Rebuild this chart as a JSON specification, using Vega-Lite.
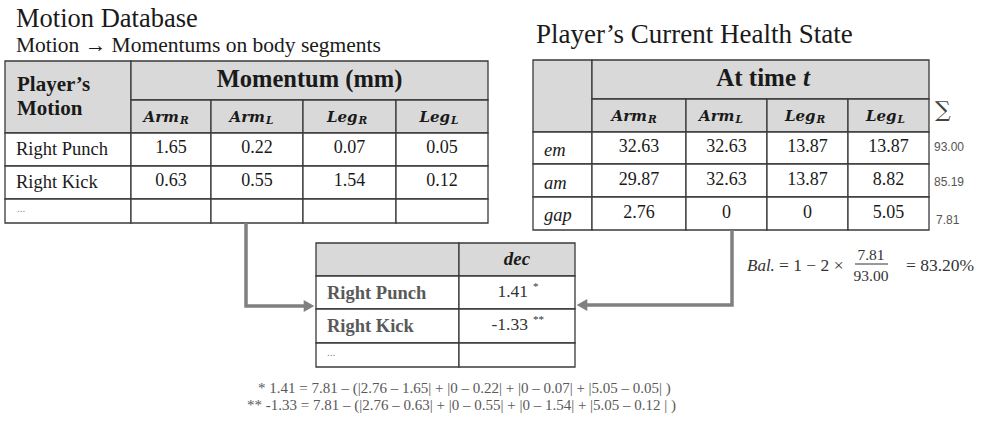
{
  "$schema": "https://vega.github.io/schema/vega-lite/v6.json",
  "width": 982,
  "height": 422,
  "padding": 0,
  "autosize": {"type": "fit", "contains": "padding"},
  "background": "#ffffff",
  "config": {"view": {"stroke": null}, "text": {"font": "Liberation Serif", "color": "#1a1a1a"}},
  "datasets": {
    "cells": [
      {"t": "h", "x": 5, "x2": 131, "y": 61, "y2": 133},
      {"t": "h", "x": 131, "x2": 488, "y": 61, "y2": 100},
      {"t": "h", "x": 131, "x2": 211, "y": 100, "y2": 133},
      {"t": "h", "x": 211, "x2": 303, "y": 100, "y2": 133},
      {"t": "h", "x": 303, "x2": 396, "y": 100, "y2": 133},
      {"t": "h", "x": 396, "x2": 488, "y": 100, "y2": 133},
      {"t": "b", "x": 5, "x2": 131, "y": 133, "y2": 166},
      {"t": "b", "x": 131, "x2": 211, "y": 133, "y2": 166},
      {"t": "b", "x": 211, "x2": 303, "y": 133, "y2": 166},
      {"t": "b", "x": 303, "x2": 396, "y": 133, "y2": 166},
      {"t": "b", "x": 396, "x2": 488, "y": 133, "y2": 166},
      {"t": "b", "x": 5, "x2": 131, "y": 166, "y2": 199},
      {"t": "b", "x": 131, "x2": 211, "y": 166, "y2": 199},
      {"t": "b", "x": 211, "x2": 303, "y": 166, "y2": 199},
      {"t": "b", "x": 303, "x2": 396, "y": 166, "y2": 199},
      {"t": "b", "x": 396, "x2": 488, "y": 166, "y2": 199},
      {"t": "b", "x": 5, "x2": 131, "y": 199, "y2": 223},
      {"t": "b", "x": 131, "x2": 211, "y": 199, "y2": 223},
      {"t": "b", "x": 211, "x2": 303, "y": 199, "y2": 223},
      {"t": "b", "x": 303, "x2": 396, "y": 199, "y2": 223},
      {"t": "b", "x": 396, "x2": 488, "y": 199, "y2": 223},
      {"t": "h", "x": 533, "x2": 592, "y": 60, "y2": 132},
      {"t": "h", "x": 592, "x2": 929, "y": 60, "y2": 99},
      {"t": "h", "x": 592, "x2": 686, "y": 99, "y2": 132},
      {"t": "h", "x": 686, "x2": 767, "y": 99, "y2": 132},
      {"t": "h", "x": 767, "x2": 848, "y": 99, "y2": 132},
      {"t": "h", "x": 848, "x2": 929, "y": 99, "y2": 132},
      {"t": "b", "x": 533, "x2": 592, "y": 132, "y2": 164},
      {"t": "b", "x": 592, "x2": 686, "y": 132, "y2": 164},
      {"t": "b", "x": 686, "x2": 767, "y": 132, "y2": 164},
      {"t": "b", "x": 767, "x2": 848, "y": 132, "y2": 164},
      {"t": "b", "x": 848, "x2": 929, "y": 132, "y2": 164},
      {"t": "b", "x": 533, "x2": 592, "y": 164, "y2": 197},
      {"t": "b", "x": 592, "x2": 686, "y": 164, "y2": 197},
      {"t": "b", "x": 686, "x2": 767, "y": 164, "y2": 197},
      {"t": "b", "x": 767, "x2": 848, "y": 164, "y2": 197},
      {"t": "b", "x": 848, "x2": 929, "y": 164, "y2": 197},
      {"t": "b", "x": 533, "x2": 592, "y": 197, "y2": 230},
      {"t": "b", "x": 592, "x2": 686, "y": 197, "y2": 230},
      {"t": "b", "x": 686, "x2": 767, "y": 197, "y2": 230},
      {"t": "b", "x": 767, "x2": 848, "y": 197, "y2": 230},
      {"t": "b", "x": 848, "x2": 929, "y": 197, "y2": 230},
      {"t": "h", "x": 316, "x2": 459, "y": 243, "y2": 276},
      {"t": "h", "x": 459, "x2": 575, "y": 243, "y2": 276},
      {"t": "b", "x": 316, "x2": 459, "y": 276, "y2": 309},
      {"t": "b", "x": 459, "x2": 575, "y": 276, "y2": 309},
      {"t": "b", "x": 316, "x2": 459, "y": 309, "y2": 343},
      {"t": "b", "x": 459, "x2": 575, "y": 309, "y2": 343},
      {"t": "b", "x": 316, "x2": 459, "y": 343, "y2": 367},
      {"t": "b", "x": 459, "x2": 575, "y": 343, "y2": 367}
    ],
    "arrows": [
      {"a": "left", "o": 1, "x": 246, "y": 223},
      {"a": "left", "o": 2, "x": 246, "y": 306},
      {"a": "left", "o": 3, "x": 304, "y": 306},
      {"a": "right", "o": 1, "x": 732, "y": 230},
      {"a": "right", "o": 2, "x": 732, "y": 305},
      {"a": "right", "o": 3, "x": 587, "y": 305}
    ],
    "heads": [
      {"a": "left", "x": 309, "y": 306},
      {"a": "right", "x": 582, "y": 305}
    ],
    "frac": [
      {"x": 855, "x2": 888, "y": 264}
    ],
    "texts": [
      {"r": "title", "x": 16, "y": 27, "s": "Motion Database"},
      {"r": "subtitle", "x": 16, "y": 52, "s": "Motion → Momentums on body segments"},
      {"r": "title2", "x": 536, "y": 43, "s": "Player’s Current Health State"},
      {"r": "hdrL", "x": 17, "y": 91, "s": "Player’s"},
      {"r": "hdrL", "x": 17, "y": 115, "s": "Motion"},
      {"r": "hdrC", "x": 309.5, "y": 87, "s": "Momentum (mm)"},
      {"r": "hdrR", "x": 796, "y": 86, "s": "At time"},
      {"r": "hdrIt", "x": 803, "y": 86, "s": "t"},
      {"r": "subB", "x": 179, "y": 117, "s": "Arm"},
      {"r": "subB", "x": 265, "y": 117, "s": "Arm"},
      {"r": "subB", "x": 357.5, "y": 117, "s": "Leg"},
      {"r": "subB", "x": 450, "y": 117, "s": "Leg"},
      {"r": "subS", "x": 180, "y": 121, "s": "R"},
      {"r": "subS", "x": 266, "y": 121, "s": "L"},
      {"r": "subS", "x": 358.5, "y": 121, "s": "R"},
      {"r": "subS", "x": 451, "y": 121, "s": "L"},
      {"r": "subB", "x": 647, "y": 115.5, "s": "Arm"},
      {"r": "subB", "x": 734.5, "y": 115.5, "s": "Arm"},
      {"r": "subB", "x": 815.5, "y": 115.5, "s": "Leg"},
      {"r": "subB", "x": 896.5, "y": 115.5, "s": "Leg"},
      {"r": "subS", "x": 648, "y": 119.5, "s": "R"},
      {"r": "subS", "x": 735.5, "y": 119.5, "s": "L"},
      {"r": "subS", "x": 816.5, "y": 119.5, "s": "R"},
      {"r": "subS", "x": 897.5, "y": 119.5, "s": "L"},
      {"r": "bodyL", "x": 16, "y": 149, "s": "Right Punch"},
      {"r": "bodyL", "x": 16, "y": 182, "s": "Right Kick"},
      {"r": "dots", "x": 17, "y": 209, "s": "..."},
      {"r": "body", "x": 171, "y": 148, "s": "1.65"},
      {"r": "body", "x": 257, "y": 148, "s": "0.22"},
      {"r": "body", "x": 349.5, "y": 148, "s": "0.07"},
      {"r": "body", "x": 442, "y": 148, "s": "0.05"},
      {"r": "body", "x": 171, "y": 181, "s": "0.63"},
      {"r": "body", "x": 257, "y": 181, "s": "0.55"},
      {"r": "body", "x": 349.5, "y": 181, "s": "1.54"},
      {"r": "body", "x": 442, "y": 181, "s": "0.12"},
      {"r": "bodyIt", "x": 544, "y": 150, "s": "em"},
      {"r": "bodyIt", "x": 544, "y": 183, "s": "am"},
      {"r": "bodyIt", "x": 544, "y": 215, "s": "gap"},
      {"r": "body", "x": 639, "y": 147, "s": "32.63"},
      {"r": "body", "x": 726.5, "y": 147, "s": "32.63"},
      {"r": "body", "x": 807.5, "y": 147, "s": "13.87"},
      {"r": "body", "x": 888.5, "y": 147, "s": "13.87"},
      {"r": "body", "x": 639, "y": 180, "s": "29.87"},
      {"r": "body", "x": 726.5, "y": 180, "s": "32.63"},
      {"r": "body", "x": 807.5, "y": 180, "s": "13.87"},
      {"r": "body", "x": 888.5, "y": 180, "s": "8.82"},
      {"r": "body", "x": 639, "y": 213, "s": "2.76"},
      {"r": "body", "x": 726.5, "y": 213, "s": "0"},
      {"r": "body", "x": 807.5, "y": 213, "s": "0"},
      {"r": "body", "x": 888.5, "y": 213, "s": "5.05"},
      {"r": "sigma", "x": 935, "y": 110, "s": "∑"},
      {"r": "sum", "x": 934, "y": 147, "s": "93.00"},
      {"r": "sum", "x": 934, "y": 182, "s": "85.19"},
      {"r": "sum", "x": 936, "y": 220, "s": "7.81"},
      {"r": "midHdr", "x": 517, "y": 259, "s": "dec"},
      {"r": "midL", "x": 327, "y": 293, "s": "Right Punch"},
      {"r": "midL", "x": 327, "y": 326, "s": "Right Kick"},
      {"r": "dots", "x": 327, "y": 353, "s": "..."},
      {"r": "midR", "x": 528, "y": 292, "s": "1.41"},
      {"r": "midR", "x": 528, "y": 325, "s": "-1.33"},
      {"r": "sup", "x": 533, "y": 287, "s": "*"},
      {"r": "sup", "x": 533, "y": 320, "s": "**"},
      {"r": "note", "x": 258, "y": 393, "s": "* 1.41 = 7.81 – (|2.76 – 1.65| + |0 – 0.22| +  |0 – 0.07| + |5.05 – 0.05| )"},
      {"r": "note", "x": 247, "y": 410, "s": "** -1.33 = 7.81 – (|2.76 – 0.63| + |0 – 0.55| +  |0 – 1.54| + |5.05 – 0.12 | )"},
      {"r": "mathIt", "x": 747, "y": 266, "s": "Bal."},
      {"r": "math", "x": 779, "y": 266, "s": "= 1 − 2 ×"},
      {"r": "math", "x": 906, "y": 266, "s": "= 83.20%"},
      {"r": "mathC", "x": 871, "y": 255, "s": "7.81"},
      {"r": "mathC", "x": 871, "y": 276, "s": "93.00"}
    ]
  },
  "encoding": {
    "x": {"field": "x", "type": "quantitative", "scale": {"domain": [0, 982], "nice": false, "zero": false}, "axis": null},
    "y": {"field": "y", "type": "quantitative", "scale": {"domain": [422, 0], "nice": false, "zero": false}, "axis": null}
  },
  "layer": [
    {
      "data": {"name": "cells"},
      "mark": {"type": "rect", "stroke": "#3a3a3a", "strokeWidth": 1.3},
      "encoding": {
        "x2": {"field": "x2"},
        "y2": {"field": "y2"},
        "fill": {"field": "t", "type": "nominal", "scale": {"domain": ["h", "b"], "range": ["#d9d9d9", "#ffffff"]}, "legend": null}
      }
    },
    {
      "data": {"name": "arrows"},
      "mark": {"type": "line", "stroke": "#808080", "strokeWidth": 3.5, "strokeJoin": "miter", "strokeCap": "butt"},
      "encoding": {
        "detail": {"field": "a", "type": "nominal"},
        "order": {"field": "o", "type": "quantitative"}
      }
    },
    {
      "data": {"name": "heads"},
      "transform": [{"filter": "datum.a === 'left'"}],
      "mark": {"type": "point", "shape": "triangle-right", "filled": true, "color": "#808080", "size": 150, "opacity": 1},
      "encoding": {}
    },
    {
      "data": {"name": "heads"},
      "transform": [{"filter": "datum.a === 'right'"}],
      "mark": {"type": "point", "shape": "triangle-left", "filled": true, "color": "#808080", "size": 150, "opacity": 1},
      "encoding": {}
    },
    {
      "data": {"name": "frac"},
      "mark": {"type": "rule", "stroke": "#333333", "strokeWidth": 1},
      "encoding": {"x2": {"field": "x2"}}
    },
    {
      "data": {"name": "texts"},
      "transform": [{"filter": "datum.r === 'title'"}],
      "mark": {"type": "text", "align": "left", "baseline": "alphabetic", "fontSize": 26.5},
      "encoding": {"text": {"field": "s"}}
    },
    {
      "data": {"name": "texts"},
      "transform": [{"filter": "datum.r === 'subtitle'"}],
      "mark": {"type": "text", "align": "left", "baseline": "alphabetic", "fontSize": 21.5},
      "encoding": {"text": {"field": "s"}}
    },
    {
      "data": {"name": "texts"},
      "transform": [{"filter": "datum.r === 'title2'"}],
      "mark": {"type": "text", "align": "left", "baseline": "alphabetic", "fontSize": 27},
      "encoding": {"text": {"field": "s"}}
    },
    {
      "data": {"name": "texts"},
      "transform": [{"filter": "datum.r === 'hdrL'"}],
      "mark": {"type": "text", "align": "left", "baseline": "alphabetic", "fontSize": 21, "fontWeight": "bold"},
      "encoding": {"text": {"field": "s"}}
    },
    {
      "data": {"name": "texts"},
      "transform": [{"filter": "datum.r === 'hdrC'"}],
      "mark": {"type": "text", "align": "center", "baseline": "alphabetic", "fontSize": 24.5, "fontWeight": "bold"},
      "encoding": {"text": {"field": "s"}}
    },
    {
      "data": {"name": "texts"},
      "transform": [{"filter": "datum.r === 'hdrR'"}],
      "mark": {"type": "text", "align": "right", "baseline": "alphabetic", "fontSize": 25, "fontWeight": "bold"},
      "encoding": {"text": {"field": "s"}}
    },
    {
      "data": {"name": "texts"},
      "transform": [{"filter": "datum.r === 'hdrIt'"}],
      "mark": {"type": "text", "align": "left", "baseline": "alphabetic", "fontSize": 25, "fontWeight": "bold", "fontStyle": "italic"},
      "encoding": {"text": {"field": "s"}}
    },
    {
      "data": {"name": "texts"},
      "transform": [{"filter": "datum.r === 'subB'"}],
      "mark": {"type": "text", "align": "right", "baseline": "middle", "fontSize": 15, "fontWeight": "bold", "fontStyle": "italic", "font": "DejaVu Serif"},
      "encoding": {"text": {"field": "s"}}
    },
    {
      "data": {"name": "texts"},
      "transform": [{"filter": "datum.r === 'subS'"}],
      "mark": {"type": "text", "align": "left", "baseline": "middle", "fontSize": 10.5, "fontWeight": "bold", "fontStyle": "italic", "font": "DejaVu Serif"},
      "encoding": {"text": {"field": "s"}}
    },
    {
      "data": {"name": "texts"},
      "transform": [{"filter": "datum.r === 'body'"}],
      "mark": {"type": "text", "align": "center", "baseline": "middle", "fontSize": 18},
      "encoding": {"text": {"field": "s"}}
    },
    {
      "data": {"name": "texts"},
      "transform": [{"filter": "datum.r === 'bodyL'"}],
      "mark": {"type": "text", "align": "left", "baseline": "middle", "fontSize": 18.5},
      "encoding": {"text": {"field": "s"}}
    },
    {
      "data": {"name": "texts"},
      "transform": [{"filter": "datum.r === 'bodyIt'"}],
      "mark": {"type": "text", "align": "left", "baseline": "middle", "fontSize": 18.5, "fontStyle": "italic"},
      "encoding": {"text": {"field": "s"}}
    },
    {
      "data": {"name": "texts"},
      "transform": [{"filter": "datum.r === 'dots'"}],
      "mark": {"type": "text", "align": "left", "baseline": "middle", "fontSize": 11, "color": "#888888"},
      "encoding": {"text": {"field": "s"}}
    },
    {
      "data": {"name": "texts"},
      "transform": [{"filter": "datum.r === 'sigma'"}],
      "mark": {"type": "text", "align": "left", "baseline": "middle", "fontSize": 22, "color": "#444444", "font": "DejaVu Serif"},
      "encoding": {"text": {"field": "s"}}
    },
    {
      "data": {"name": "texts"},
      "transform": [{"filter": "datum.r === 'sum'"}],
      "mark": {"type": "text", "align": "left", "baseline": "middle", "fontSize": 12, "color": "#555555", "font": "Liberation Sans"},
      "encoding": {"text": {"field": "s"}}
    },
    {
      "data": {"name": "texts"},
      "transform": [{"filter": "datum.r === 'midHdr'"}],
      "mark": {"type": "text", "align": "center", "baseline": "middle", "fontSize": 19, "fontWeight": "bold", "fontStyle": "italic"},
      "encoding": {"text": {"field": "s"}}
    },
    {
      "data": {"name": "texts"},
      "transform": [{"filter": "datum.r === 'midL'"}],
      "mark": {"type": "text", "align": "left", "baseline": "middle", "fontSize": 18.5, "fontWeight": "bold", "color": "#595959"},
      "encoding": {"text": {"field": "s"}}
    },
    {
      "data": {"name": "texts"},
      "transform": [{"filter": "datum.r === 'midR'"}],
      "mark": {"type": "text", "align": "right", "baseline": "middle", "fontSize": 17.5, "color": "#333333"},
      "encoding": {"text": {"field": "s"}}
    },
    {
      "data": {"name": "texts"},
      "transform": [{"filter": "datum.r === 'sup'"}],
      "mark": {"type": "text", "align": "left", "baseline": "middle", "fontSize": 11, "color": "#333333"},
      "encoding": {"text": {"field": "s"}}
    },
    {
      "data": {"name": "texts"},
      "transform": [{"filter": "datum.r === 'note'"}],
      "mark": {"type": "text", "align": "left", "baseline": "alphabetic", "fontSize": 15, "color": "#595959"},
      "encoding": {"text": {"field": "s"}}
    },
    {
      "data": {"name": "texts"},
      "transform": [{"filter": "datum.r === 'mathIt'"}],
      "mark": {"type": "text", "align": "left", "baseline": "middle", "fontSize": 17, "fontStyle": "italic", "color": "#333333"},
      "encoding": {"text": {"field": "s"}}
    },
    {
      "data": {"name": "texts"},
      "transform": [{"filter": "datum.r === 'math'"}],
      "mark": {"type": "text", "align": "left", "baseline": "middle", "fontSize": 17.5, "color": "#333333"},
      "encoding": {"text": {"field": "s"}}
    },
    {
      "data": {"name": "texts"},
      "transform": [{"filter": "datum.r === 'mathC'"}],
      "mark": {"type": "text", "align": "center", "baseline": "middle", "fontSize": 15.5, "color": "#333333"},
      "encoding": {"text": {"field": "s"}}
    }
  ]
}
